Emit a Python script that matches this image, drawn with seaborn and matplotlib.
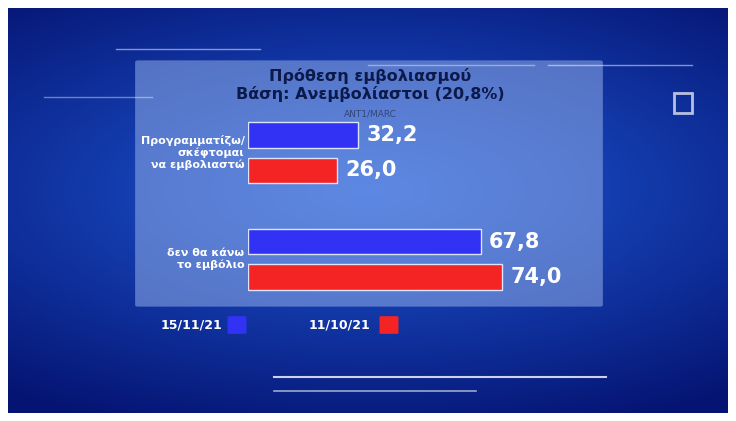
import matplotlib.pyplot as plt
import matplotlib.patches as mpatches
import seaborn as sns
import pandas as pd
import numpy as np

# Data
slots = ['g1_a', 'g1_b', 'gap', 'g2_a', 'g2_b']
slot_values = [32.2, 26.0, np.nan, 67.8, 74.0]
slot_series = ['15/11/21', '11/10/21', '15/11/21', '15/11/21', '11/10/21']
value_labels = ['32,2', '26,0', '', '67,8', '74,0']
categories = ['Προγραμματίζω/\nσκέφτομαι\nνα εμβολιαστώ', 'δεν θα κάνω\nτο εμβόλιο']
series = ['15/11/21', '11/10/21']
colors = {'15/11/21': '#3232f4', '11/10/21': '#f42424'}

df = pd.DataFrame({'slot': slots, 'value': slot_values, 'series': slot_series})

W, H = 736, 421
fig = plt.figure(figsize=(W / 100, H / 100), dpi=100)

# background gradient
bg = fig.add_axes([8 / W, 8 / H, 720 / W, 405 / H])
yy, xx = np.mgrid[0:1:200j, 0:1:300j]
r = np.sqrt(((xx - 0.5) * 1.2) ** 2 + ((yy - 0.45) * 1.6) ** 2)
img = np.clip(1 - r, 0, 1)
c0 = np.array([0.02, 0.08, 0.45])
c1 = np.array([0.12, 0.35, 0.85])
bg.imshow(c0 + (c1 - c0) * img[..., None], aspect='auto', extent=[0, 1, 0, 1])
bg.set_xlim(0, 1)
bg.set_ylim(0, 1)
bg.axis('off')
for (x0, x1, y, lw, a) in [(0.37, 0.83, 0.09, 1.5, 0.8), (0.37, 0.65, 0.055, 1.2, 0.6),
                           (0.15, 0.35, 0.9, 1.0, 0.5), (0.75, 0.95, 0.86, 1.0, 0.5),
                           (0.05, 0.2, 0.78, 1.0, 0.4), (0.5, 0.73, 0.86, 1.0, 0.4)]:
    bg.plot([x0, x1], [y, y], color='white', lw=lw, alpha=a)
bg.add_patch(mpatches.Rectangle((0.925, 0.74), 0.025, 0.05, fill=False, ec='white', lw=2, alpha=0.7))

# panel (in background axes coords)
px0, py0 = (138 - 8) / 720, (413 - 305) / 405
bg.add_patch(mpatches.FancyBboxPatch((px0, py0), 462 / 720, 243 / 405, boxstyle='round,pad=0.004',
                                     fc='#9cb8ee', ec='none', alpha=0.5))

ax = fig.add_axes([248 / W, 1 - 295 / H, 352 / W, 178 / H])
ax.patch.set_alpha(0)
sns.barplot(data=df, x='value', y='slot', hue='series', order=slots, orient='h',
            palette=colors, dodge=False, width=0.72, ax=ax, legend=False,
            edgecolor='#dde4ff', linewidth=1.0, saturation=1)
ax.set_xlim(0, 102.6)
ax.set_ylim(4.5, -0.5)
ax.axis('off')
for i, (v, lab) in enumerate(zip(slot_values, value_labels)):
    if lab:
        ax.text(v + 2.5, i, lab, color='white', fontsize=15, fontweight='bold', va='center', ha='left')

ax.text(-1, 0.5, categories[0], color='white', fontsize=8, fontweight='bold', ha='right', va='center')
ax.text(-1, 3.5, categories[1], color='white', fontsize=8, fontweight='bold', ha='right', va='center')

fig.text(370 / W, 1 - 85 / H, 'Πρόθεση εμβολιασμού\nΒάση: Ανεμβολίαστοι (20,8%)', ha='center', va='center',
         fontsize=11.5, color='#0b1a4a', fontweight='bold', linespacing=1.1)
fig.text(370 / W, 1 - 114 / H, 'ANT1/MARC', ha='center', va='center', fontsize=6.5, color='#33457a')

# legend
fig.text(222 / W, 1 - 325 / H, series[0], color='white', fontsize=9, fontweight='bold', ha='right', va='center')
fig.patches.append(mpatches.FancyBboxPatch((229 / W, 1 - 333 / H), 16 / W, 16 / H, boxstyle='round,pad=0.002',
                                           transform=fig.transFigure, fc=colors[series[0]], ec='none'))
fig.text(370 / W, 1 - 325 / H, series[1], color='white', fontsize=9, fontweight='bold', ha='right', va='center')
fig.patches.append(mpatches.FancyBboxPatch((381 / W, 1 - 333 / H), 16 / W, 16 / H, boxstyle='round,pad=0.002',
                                           transform=fig.transFigure, fc=colors[series[1]], ec='none'))

fig.savefig('out.png', dpi=100, facecolor='white')
